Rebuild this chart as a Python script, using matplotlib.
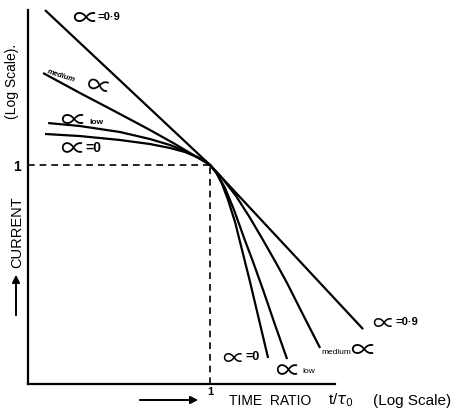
import matplotlib
matplotlib.use('Agg')
import matplotlib.pyplot as plt

plt.rcParams['font.family'] = ['Liberation Sans', 'DejaVu Sans']

# curve points (time ratio t/tau0, current), both log scale
alpha0_x = [0.124, 0.193, 0.320, 0.468, 0.603, 0.729, 0.848, 0.939, 1.0,
            1.079, 1.164, 1.256, 1.372, 1.499, 1.659, 1.859, 2.083]
alpha0_y = [1.386, 1.356, 1.301, 1.247, 1.196, 1.146, 1.088, 1.043, 1.0,
            0.929, 0.819, 0.692, 0.549, 0.409, 0.292, 0.196, 0.1315]

low_x = [0.129, 0.193, 0.320, 0.468, 0.603, 0.729, 0.848, 0.939, 1.0,
         1.093, 1.209, 1.355, 1.538, 1.723, 1.955, 2.276, 2.649]
low_y = [1.555, 1.507, 1.415, 1.314, 1.234, 1.159, 1.088, 1.043, 1.0,
         0.910, 0.785, 0.623, 0.464, 0.361, 0.269, 0.186, 0.130]

medium_x = [0.121, 0.193, 0.320, 0.468, 0.642, 0.827, 1.0, 1.164, 1.389,
            1.659, 1.955, 2.305, 2.649, 3.243, 4.021]
medium_y = [2.631, 2.132, 1.710, 1.445, 1.247, 1.099, 1.0, 0.872, 0.722,
            0.573, 0.454, 0.357, 0.289, 0.207, 0.146]

alpha09_x = [0.124, 1.0, 6.93]
alpha09_y = [5.1, 1.0, 0.178]

W, H = 462, 411


def px(x, y):
    # pixel position (from top-left) -> figure fraction
    return x / W, 1 - y / H


fig = plt.figure(figsize=(4.62, 4.11), dpi=100)
ax = fig.add_axes([28 / W, 27 / H, 432 / W, 379 / H])
ax.set_xscale('log')
ax.set_yscale('log')
ax.set_xlim(0.1, 23.6)
ax.set_ylim(0.1, 5.38)

for xs, ys in [(alpha0_x, alpha0_y), (low_x, low_y), (medium_x, medium_y), (alpha09_x, alpha09_y)]:
    ax.plot(xs, ys, color='black', lw=1.6, solid_capstyle='butt', solid_joinstyle='round')

# dashed guide lines to the (1, 1) point
ax.plot([0.1, 1.0], [1.0, 1.0], color='black', lw=1.2, ls=(0, (4, 3)))
ax.plot([1.0, 1.0], [0.1, 1.0], color='black', lw=1.2, ls=(0, (4, 3)))

for s in ['top', 'right']:
    ax.spines[s].set_visible(False)
ax.spines['left'].set_linewidth(1.6)
ax.spines['bottom'].set_linewidth(1.6)
ax.spines['left'].set_bounds(0.1, 5.1)
ax.spines['bottom'].set_bounds(0.1, 4.86)
ax.set_xticks([])
ax.set_yticks([])
ax.minorticks_off()
ax.tick_params(which='both', length=0)

# the alpha sign is drawn with the wide CJK glyph
AL = dict(family=['Noto Sans CJK SC', 'DejaVu Sans'], va='center', ha='left')

# curve labels, upper left
fig.text(*px(72, 19), '∝', fontsize=19, **AL)
fig.text(*px(98, 17), '=0·9', fontsize=8, fontweight='bold', va='center', ha='left')
fig.text(*px(46, 76), 'medium', fontsize=5.5, fontweight='bold', style='italic',
         rotation=-18, va='center', ha='left')
fig.text(*px(83, 88), '∝', fontsize=18, rotation=-12, **AL)
fig.text(*px(60, 121), '∝', fontsize=19, **AL)
fig.text(*px(89, 123), 'low', fontsize=6, fontweight='bold', va='center', ha='left')
fig.text(*px(60, 150), '∝', fontsize=18, **AL)
fig.text(*px(85, 148), '=0', fontsize=10, fontweight='bold', va='center', ha='left')

# curve labels, lower right
fig.text(*px(372, 324), '∝', fontsize=16, **AL)
fig.text(*px(395, 322), '=0·9', fontsize=8, fontweight='bold', va='center', ha='left')
fig.text(*px(321, 352), 'medium', fontsize=6, va='center', ha='left')
fig.text(*px(350, 352), '∝', fontsize=19, **AL)
fig.text(*px(275, 372), '∝', fontsize=18, **AL)
fig.text(*px(302, 371), 'low', fontsize=6, va='center', ha='left')
fig.text(*px(222, 359), '∝', fontsize=16, **AL)
fig.text(*px(245, 357), '=0', fontsize=9, fontweight='bold', va='center', ha='left')

# axis labels
fig.text(*px(17, 167), '1', fontsize=10, fontweight='bold', ha='center', va='center')
fig.text(*px(210, 392), '1', fontsize=8, fontweight='bold', ha='center', va='center')
fig.text(*px(229, 401), 'TIME  RATIO', fontsize=10, ha='left', va='center')
fig.text(*px(328, 400), r't/$\tau_0$', fontsize=11, ha='left', va='center')
fig.text(*px(373, 401), '(Log Scale)', fontsize=11, ha='left', va='center')
fig.text(*px(12, 81), '(Log Scale).', fontsize=10, rotation=90, ha='center', va='center')
fig.text(*px(17, 232), 'CURRENT', fontsize=10.5, rotation=90, ha='center', va='center')
ax.annotate('', xy=px(16, 272), xytext=px(16, 318),
            xycoords='figure fraction', textcoords='figure fraction', annotation_clip=False,
            arrowprops=dict(arrowstyle='-|>', color='black', lw=1.4, mutation_scale=11))
ax.annotate('', xy=px(201, 400), xytext=px(137, 400),
            xycoords='figure fraction', textcoords='figure fraction', annotation_clip=False,
            arrowprops=dict(arrowstyle='-|>', color='black', lw=1.4, mutation_scale=11))

fig.savefig('out.png', dpi=100, facecolor='white')
